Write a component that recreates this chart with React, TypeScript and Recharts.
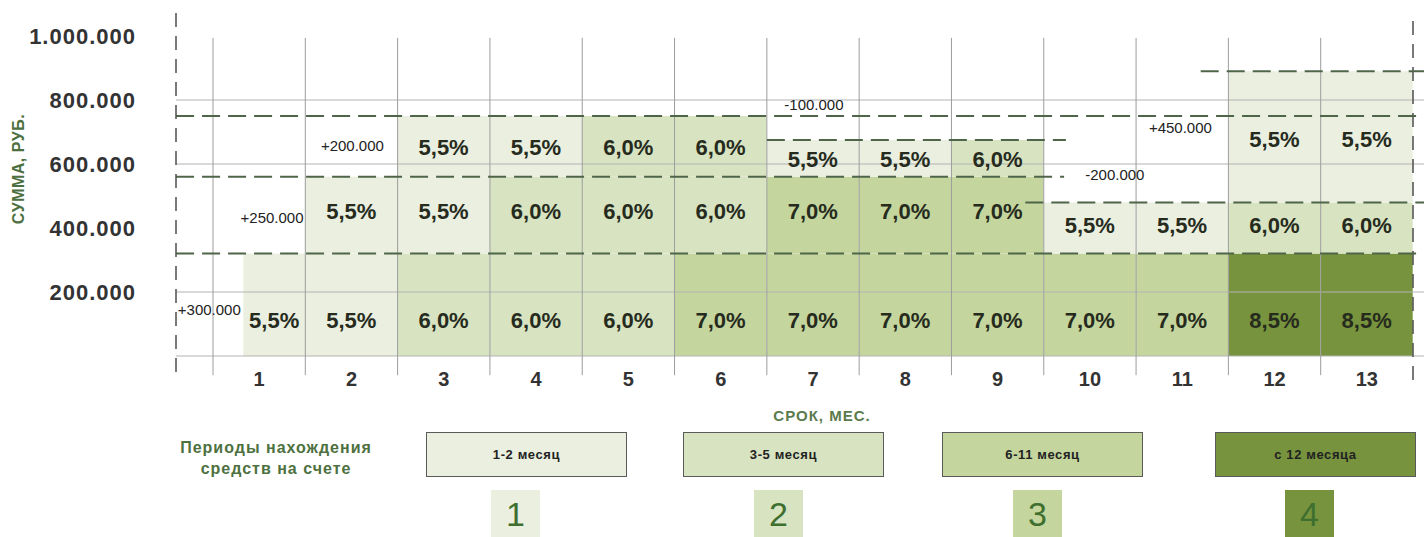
import React from 'react'
import {
  ComposedChart,
  Bar,
  XAxis,
  YAxis,
  Cell,
  LabelList,
  ReferenceLine,
  ReferenceDot,
} from 'recharts'

/* ───── data ───── */
const MONTHS = ['1', '2', '3', '4', '5', '6', '7', '8', '9', '10', '11', '12', '13']

// stacked amount tiers, руб.
const BASE_AMOUNT = [320000, 320000, 320000, 320000, 320000, 320000, 320000, 320000, 320000, 320000, 320000, 320000, 320000]
const MID_AMOUNT = [0, 240000, 240000, 240000, 240000, 240000, 240000, 240000, 240000, 160000, 160000, 160000, 160000]
const TOP_AMOUNT = [0, 0, 190000, 190000, 190000, 190000, 115000, 115000, 115000, 0, 0, 410000, 410000]

const BASE_RATE = ['5,5%', '5,5%', '6,0%', '6,0%', '6,0%', '7,0%', '7,0%', '7,0%', '7,0%', '7,0%', '7,0%', '8,5%', '8,5%']
const MID_RATE = ['', '5,5%', '5,5%', '6,0%', '6,0%', '6,0%', '7,0%', '7,0%', '7,0%', '5,5%', '5,5%', '6,0%', '6,0%']
const TOP_RATE = ['', '', '5,5%', '5,5%', '6,0%', '6,0%', '5,5%', '5,5%', '6,0%', '', '', '5,5%', '5,5%']

// which holding period (1..4) each cell belongs to
const BASE_PERIOD = [1, 1, 2, 2, 2, 3, 3, 3, 3, 3, 3, 4, 4]
const MID_PERIOD = [1, 1, 1, 2, 2, 2, 3, 3, 3, 1, 1, 2, 2]
const TOP_PERIOD = [1, 1, 1, 1, 2, 2, 1, 1, 2, 1, 1, 1, 1]

const PERIOD_NUM = ['1', '2', '3', '4']
const PERIOD_LABELS = ['1-2 месяц', '3-5 месяц', '6-11 месяц', 'с 12 месяца']
const PERIOD_COLORS = ['#eaefdf', '#d8e4c1', '#c4d69d', '#77933d']

const Y_TICKS = [200000, 400000, 600000, 800000, 1000000]
const GRID_Y = [0, 200000, 600000, 800000]

// balance thresholds (dashed), month units: 0 = start of month 1
const LIMIT_AMOUNT = [320000, 750000, 560000, 675000, 480000, 890000]
const LIMIT_FROM = [-0.4, -0.4, -0.4, 6.0, 8.8, 10.7]
const LIMIT_TO = [13.12, 13.12, 9.22, 9.24, 13.12, 13.12]

// deposit / withdrawal notes
const NOTE_TEXT = ['+300.000', '+250.000', '+200.000', '-100.000', '-200.000', '+450.000']
const NOTE_MONTH = [-0.04, 0.64, 1.51, 6.51, 9.77, 10.48]
const NOTE_AMOUNT = [144000, 431000, 656000, 784000, 566000, 712000]

const Y_MIN = -75000
const Y_MAX = 1071875
const GRID_TOP = 994000
const GRID_BOTTOM = -60000

const data = MONTHS.map((m, i) => ({
  month: m,
  at: i + 0.5, // middle of the month on the continuous month scale
  base: BASE_AMOUNT[i],
  mid: MID_AMOUNT[i],
  top: TOP_AMOUNT[i],
  baseRate: BASE_RATE[i],
  midRate: MID_RATE[i],
  topRate: TOP_RATE[i],
}))

const fmtAmount = (n: number) => String(n).replace(/\B(?=(\d{3})+(?!\d))/g, '.')

const FIRST_INSET = 0.33 // month 1 money arrives part-way through

const DASH = '#4f6549'
const AXIS_DASH = '#4d4d4d'
const GREEN_TEXT = '#4d7040'

const BaseShape = (p: any) => {
  const inset = p.index === 0 ? p.width * FIRST_INSET : 0
  return <rect x={p.x + inset} y={p.y} width={p.width - inset} height={p.height} fill={p.fill} />
}

const rateLabel = (k: number, withInset: boolean) => (p: any) => {
  const { x, y, width, height, value, index } = p
  if (!value) return null
  const inset = withInset && index === 0 ? width * FIRST_INSET : 0
  return (
    <text
      x={x + inset + (width - inset) / 2}
      y={y + height * k}
      textAnchor="middle"
      dominantBaseline="central"
      fontSize={22}
      fontWeight={700}
      fill="#262b1e"
    >
      {value}
    </text>
  )
}

const MonthTick = (p: any) => (
  <text x={p.x} y={p.y + 6} textAnchor="middle" fontSize={20} fontWeight={700} fill="#333">
    {p.payload.value}
  </text>
)

const LEGEND_LEFT = [426, 683, 942, 1215]
const BADGE_CENTER = [515, 778, 1037, 1309]

export default function App() {
  return (
    <div
      style={{
        position: 'absolute',
        left: 0,
        top: 0,
        width: 1424,
        height: 537,
        background: '#fff',
        overflow: 'hidden',
        fontFamily: '"Liberation Sans", Arial, sans-serif',
      }}
    >
      <ComposedChart
        width={1424}
        height={537}
        data={data}
        margin={{ top: 13, right: 0, left: 0, bottom: 127 }}
        barCategoryGap={0}
        barGap={0}
      >
        <XAxis
          dataKey="month"
          type="category"
          interval={0}
          padding={{ left: 37, right: 11 }}
          axisLine={false}
          tickLine={false}
          tickSize={0}
          tickMargin={0}
          height={30}
          tick={MonthTick}
        />
        <XAxis
          xAxisId="pos"
          dataKey="at"
          type="number"
          domain={[0, 13]}
          padding={{ left: 37, right: 11 }}
          allowDataOverflow
          hide
        />
        <YAxis
          type="number"
          domain={[Y_MIN, Y_MAX]}
          allowDataOverflow
          ticks={Y_TICKS}
          width={176}
          tickFormatter={fmtAmount}
          axisLine={{ stroke: AXIS_DASH, strokeDasharray: '14 9', strokeWidth: 1.5 }}
          tickLine={false}
          tickSize={0}
          tickMargin={40}
          tick={{ fontSize: 22, fontWeight: 700, fill: '#333', letterSpacing: 1 }}
        />

        <Bar dataKey="base" stackId="s" isAnimationActive={false} shape={BaseShape}>
          {data.map((_, i) => (
            <Cell key={i} fill={PERIOD_COLORS[BASE_PERIOD[i] - 1]} />
          ))}
          <LabelList dataKey="baseRate" content={rateLabel(0.65, true)} />
        </Bar>
        <Bar dataKey="mid" stackId="s" isAnimationActive={false}>
          {data.map((_, i) => (
            <Cell key={i} fill={PERIOD_COLORS[MID_PERIOD[i] - 1]} />
          ))}
          <LabelList dataKey="midRate" content={rateLabel(0.45, false)} />
        </Bar>
        <Bar dataKey="top" stackId="s" isAnimationActive={false}>
          {data.map((_, i) => (
            <Cell key={i} fill={PERIOD_COLORS[TOP_PERIOD[i] - 1]} />
          ))}
          <LabelList dataKey="topRate" content={rateLabel(0.52, false)} />
        </Bar>

        {GRID_Y.map((v) => (
          <ReferenceLine key={'gy' + v} y={v} stroke="#b4b4b4" strokeWidth={1.2} />
        ))}
        {MONTHS.map((m) => (
          <ReferenceLine
            key={'gx' + m}
            segment={[
              { x: m, y: GRID_TOP },
              { x: m, y: GRID_BOTTOM },
            ]}
            position="start"
            stroke="#9c9c9c"
            ifOverflow="visible"
          />
        ))}
        <ReferenceLine
          x={MONTHS[MONTHS.length - 1]}
          position="end"
          stroke={AXIS_DASH}
          strokeDasharray="14 9"
          strokeWidth={1.5}
        />
        {LIMIT_AMOUNT.map((v, i) => (
          <ReferenceLine
            key={'lim' + i}
            xAxisId="pos"
            segment={[
              { x: LIMIT_FROM[i], y: v },
              { x: LIMIT_TO[i], y: v },
            ]}
            stroke={DASH}
            strokeWidth={2}
            strokeDasharray="18 8"
            ifOverflow="visible"
          />
        ))}
        {NOTE_TEXT.map((t, i) => (
          <ReferenceDot
            key={'note' + i}
            xAxisId="pos"
            x={NOTE_MONTH[i]}
            y={NOTE_AMOUNT[i]}
            r={0}
            fill="none"
            stroke="none"
            ifOverflow="visible"
            label={{ value: t, position: 'center', fontSize: 15, fill: '#222' }}
          />
        ))}
      </ComposedChart>

      {/* axis titles */}
      <div
        style={{
          position: 'absolute',
          left: 19,
          top: 169,
          transform: 'translate(-50%, -50%) rotate(-90deg)',
          whiteSpace: 'nowrap',
          fontSize: 16,
          fontWeight: 700,
          color: GREEN_TEXT,
          letterSpacing: 0.5,
        }}
      >
        СУММА, РУБ.
      </div>
      <div
        style={{
          position: 'absolute',
          left: 822,
          top: 415,
          transform: 'translate(-50%, -50%)',
          whiteSpace: 'nowrap',
          fontSize: 15,
          fontWeight: 700,
          color: '#5b7a4d',
          letterSpacing: 1,
        }}
      >
        СРОК, МЕС.
      </div>

      {/* legend */}
      <div
        style={{
          position: 'absolute',
          left: 276,
          top: 437,
          transform: 'translateX(-50%)',
          textAlign: 'center',
          whiteSpace: 'nowrap',
          fontSize: 16,
          lineHeight: '21px',
          fontWeight: 700,
          color: GREEN_TEXT,
          letterSpacing: 1,
        }}
      >
        Периоды нахождения
        <br />
        средств на счете
      </div>
      {PERIOD_LABELS.map((lbl, i) => (
        <div
          key={lbl}
          style={{
            position: 'absolute',
            left: LEGEND_LEFT[i],
            top: 432,
            width: 201,
            height: 45,
            boxSizing: 'border-box',
            border: '1.5px solid #5a5a5a',
            background: PERIOD_COLORS[i],
            display: 'flex',
            alignItems: 'center',
            justifyContent: 'center',
            fontSize: 13,
            fontWeight: 700,
            color: '#222',
            letterSpacing: 0.6,
          }}
        >
          {lbl}
        </div>
      ))}
      {PERIOD_NUM.map((n, i) => (
        <div
          key={'b' + n}
          style={{
            position: 'absolute',
            left: BADGE_CENTER[i] - 24,
            top: 490,
            width: 49,
            height: 52,
            background: PERIOD_COLORS[i],
            display: 'flex',
            justifyContent: 'center',
            paddingTop: 4,
            boxSizing: 'border-box',
            fontSize: 34,
            lineHeight: '40px',
            color: '#3f6f2f',
          }}
        >
          {n}
        </div>
      ))}
    </div>
  )
}
